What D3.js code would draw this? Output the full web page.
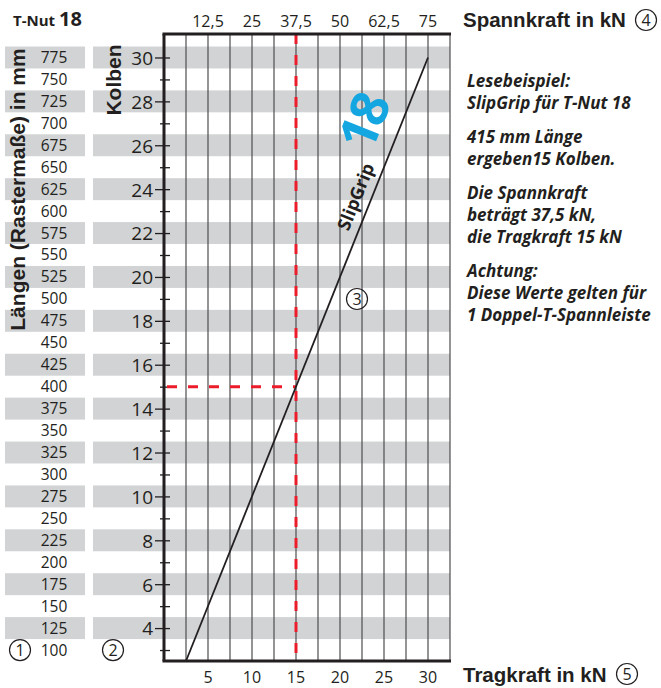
<!DOCTYPE html>
<html>
<head>
<meta charset="utf-8">
<script src="https://cdn.jsdelivr.net/npm/d3@7"></script>
<style>
body { margin: 0; background: #fff; }
svg { display: block; }
text { font-family: "Open Sans", sans-serif; fill: #231f20; }
.head { font-family: "Liberation Sans", Arial, sans-serif; font-weight: bold; }
</style>
</head>
<body>
<div id="chart"></div>
<script>
// values
const kolbenTicks = [3, 4, 5, 6, 7, 8, 9, 10, 11, 12, 13, 14, 15, 16, 17, 18, 19, 20, 21, 22, 23, 24, 25, 26, 27, 28, 29, 30];
const laengen = [100, 125, 150, 175, 200, 225, 250, 275, 300, 325, 350, 375, 400, 425, 450, 475, 500, 525, 550, 575, 600, 625, 650, 675, 700, 725, 750, 775];
const tragTicks = [5, 10, 15, 20, 25, 30];
const spannTicks = [12.5, 25, 37.5, 50, 62.5, 75];
const gridTrag = [2.5, 5, 7.5, 10, 12.5, 15, 17.5, 20, 22.5, 25, 27.5, 30, 32.5];
const lineTrag = [2.5, 30];
const lineKolben = [2.5, 30];
const exampleKolben = 15;
const exampleTrag = 15;
const notes = [
    ["Lesebeispiel:", "SlipGrip für T-Nut 18"],
    ["415 mm Länge", "ergeben15 Kolben."],
    ["Die Spannkraft", "beträgt 37,5 kN,", "die Tragkraft 15 kN"],
    ["Achtung:", "Diese Werte gelten für", "1 Doppel-T-Spannleiste"]
];

let width = 661, height = 688;
let svg = d3.select("#chart").append("svg")
    .attr("width", width)
    .attr("height", height);

// plot frame
let x0 = 164, x1 = 450, yTop = 34, yBot = 661;
let x = d3.scaleLinear().domain([0, 32.5]).range([x0, x1]);
let xSpann = d3.scaleLinear().domain([0, 81.25]).range([x0, x1]);
let y = d3.scaleLinear().domain([2.5, 31.07]).range([yBot, yTop]);
let gray = "#d1d3d4";

// grey bands on even rows, both in the length column and the plot
let bands = kolbenTicks.filter(function(k) { return k % 2 == 0; });
svg.append("g").selectAll("rect.l")
    .data(bands).enter().append("rect")
    .attr("x", 5).attr("width", 80)
    .attr("y", function(k) { return y(k + 0.5); })
    .attr("height", function(k) { return y(k - 0.5) - y(k + 0.5); })
    .attr("fill", gray);
svg.append("g").selectAll("rect.r")
    .data(bands).enter().append("rect")
    .attr("x", 93).attr("width", x1 - 93)
    .attr("y", function(k) { return y(k + 0.5); })
    .attr("height", function(k) { return y(k - 0.5) - y(k + 0.5); })
    .attr("fill", gray);

// vertical grid
svg.append("g").selectAll("line")
    .data(gridTrag).enter().append("line")
    .attr("x1", function(d) { return x(d); })
    .attr("x2", function(d) { return x(d); })
    .attr("y1", yTop).attr("y2", yBot)
    .attr("stroke", "#4d4d4f")
    .attr("stroke-width", 1.2);

// left axis (Kolben)
let leftAxis = d3.axisLeft(y).tickValues(kolbenTicks).tickSize(0).tickPadding(11)
    .tickFormat(function(d) { return d % 2 == 0 ? d : ""; });
let gl = svg.append("g").attr("transform", "translate(" + x0 + ",0)").call(leftAxis);
gl.select(".domain").remove();
gl.selectAll("text").attr("font-family", "Open Sans").attr("font-size", 19)
    .attr("fill", "#231f20").attr("dy", "0.36em");
gl.selectAll(".tick").append("line")
    .attr("x1", function(d) { return d % 2 == 0 ? -9 : -4; })
    .attr("x2", 6)
    .attr("stroke", "#231f20").attr("stroke-width", 1.3);

// length column
svg.append("g").selectAll("text")
    .data(laengen).enter().append("text")
    .attr("x", 54)
    .attr("y", function(d, i) { return y(kolbenTicks[i]) + 5.5; })
    .attr("text-anchor", "middle")
    .attr("font-size", 15.5)
    .text(function(d) { return d; });

// top axis (Spannkraft)
let commaFmt = d3.formatLocale({decimal: ",", thousands: ".", grouping: [3], currency: ["", ""]}).format("~g");
svg.append("g").selectAll("text")
    .data(spannTicks).enter().append("text")
    .attr("x", function(d) { return xSpann(d); })
    .attr("y", 27)
    .attr("text-anchor", "middle")
    .attr("font-size", 16)
    .text(function(d) { return commaFmt(d); });

// bottom axis (Tragkraft)
svg.append("g").selectAll("text")
    .data(tragTicks).enter().append("text")
    .attr("x", function(d) { return x(d); })
    .attr("y", 683)
    .attr("text-anchor", "middle")
    .attr("font-size", 16)
    .text(function(d) { return d; });

// example reading, red dashes
svg.append("line")
    .attr("x1", x(exampleTrag)).attr("x2", x(exampleTrag))
    .attr("y1", yTop).attr("y2", yBot)
    .attr("stroke", "#ec1c2a").attr("stroke-width", 3)
    .attr("stroke-dasharray", "10,11");
svg.append("line")
    .attr("x1", x0 + 3).attr("x2", x(exampleTrag))
    .attr("y1", y(exampleKolben)).attr("y2", y(exampleKolben))
    .attr("stroke", "#ec1c2a").attr("stroke-width", 3)
    .attr("stroke-dasharray", "10,11");

// SlipGrip line
let lineData = lineTrag.map(function(t, i) { return [t, lineKolben[i]]; });
svg.append("path")
    .attr("d", d3.line().x(function(d) { return x(d[0]); }).y(function(d) { return y(d[1]); })(lineData))
    .attr("fill", "none")
    .attr("stroke", "#231f20")
    .attr("stroke-width", 1.8);

// frame lines
svg.append("line").attr("x1", x0 - 1.5).attr("x2", x1 + 1).attr("y1", yTop).attr("y2", yTop)
    .attr("stroke", "#231f20").attr("stroke-width", 3);
svg.append("line").attr("x1", x0 - 1.5).attr("x2", x1 + 1).attr("y1", yBot).attr("y2", yBot)
    .attr("stroke", "#231f20").attr("stroke-width", 3);
svg.append("line").attr("x1", x0).attr("x2", x0).attr("y1", yTop).attr("y2", yBot)
    .attr("stroke", "#231f20").attr("stroke-width", 3);

// labels along the line
let ang = Math.atan2(y(lineKolben[0]) - y(lineKolben[1]), x(lineTrag[1]) - x(lineTrag[0])) * 180 / Math.PI;
function alongLine(k, off) {
    let px = x(k), py = y(k);
    let r = ang * Math.PI / 180;
    return "translate(" + (px - Math.sin(r) * off) + "," + (py - Math.cos(r) * off) + ") rotate(" + (-ang) + ")";
}
svg.append("text")
    .attr("transform", alongLine(23.4, 9))
    .attr("text-anchor", "middle")
    .attr("font-size", 18).attr("font-weight", 700)
    .text("SlipGrip");
svg.append("text")
    .attr("transform", alongLine(26.45, 17))
    .attr("text-anchor", "middle")
    .attr("font-size", 52).attr("font-weight", 700)
    .attr("letter-spacing", -3)
    .style("fill", "#14a6e1")
    .text("18");

// circled numbers
function circled(cx, cy, n) {
    svg.append("circle").attr("cx", cx).attr("cy", cy).attr("r", 10.5)
        .attr("fill", "none").attr("stroke", "#231f20").attr("stroke-width", 1.2);
    svg.append("text").attr("x", cx).attr("y", cy + 5.5)
        .attr("text-anchor", "middle").attr("font-size", 16).text(n);
}
circled(20, y(3), "1");
circled(113, y(3), "2");
circled(357, 299, "3");
circled(646, 20, "4");
circled(627, 674, "5");

// titles
svg.append("text").attr("x", 13).attr("y", 26)
    .attr("font-size", 15).attr("font-weight", 700).text("T-Nut");
svg.append("text").attr("x", 59).attr("y", 26)
    .attr("font-size", 20).attr("font-weight", 700).text("18");
svg.append("text").attr("class", "head")
    .attr("transform", "translate(25,189.5) rotate(-90)")
    .attr("text-anchor", "middle")
    .attr("font-size", 21)
    .text("Längen (Rastermaße) in mm");
svg.append("text").attr("class", "head")
    .attr("transform", "translate(121,80) rotate(-90)")
    .attr("text-anchor", "middle")
    .attr("font-size", 21)
    .text("Kolben");
svg.append("text").attr("class", "head")
    .attr("x", 463).attr("y", 27).attr("font-size", 20.5)
    .text("Spannkraft in kN");
svg.append("text").attr("class", "head")
    .attr("x", 463).attr("y", 682).attr("font-size", 20.5)
    .text("Tragkraft in kN");

// reading notes on the right
let noteY = 87;
notes.forEach(function(par) {
    par.forEach(function(line) {
        svg.append("text").attr("x", 467).attr("y", noteY)
            .attr("font-size", 17).attr("font-weight", 700).attr("font-style", "italic")
            .text(line);
        noteY += 22;
    });
    noteY += 12;
});
</script>
</body>
</html>
